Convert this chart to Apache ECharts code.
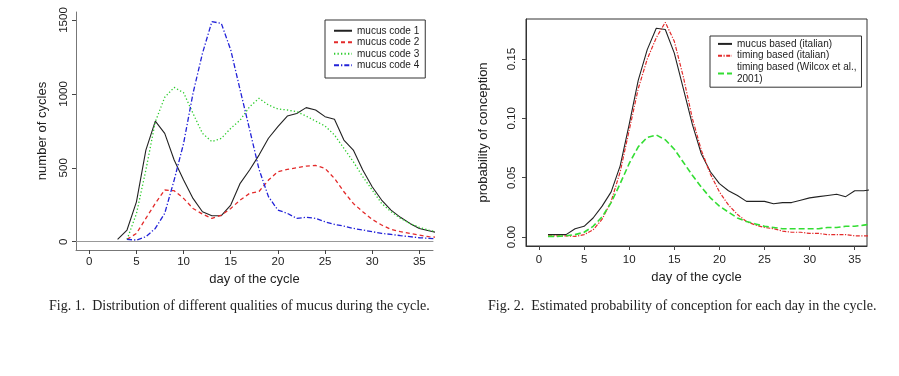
<!DOCTYPE html>
<html>
<head>
<meta charset="utf-8">
<script src="https://cdn.jsdelivr.net/npm/echarts@6/dist/echarts.min.js"></script>
<style>
  html, body { margin: 0; padding: 0; background: #fff; }
  #main { width: 899px; height: 376px; }
</style>
</head>
<body>
<div id="main"></div>
<script>
// fig 1: mucus code counts per day of cycle
var days1 = [3,4,5,6,7,8,9,10,11,12,13,14,15,16,17,18,19,20,21,22,23,24,25,26,27,28,29,30,31,32,33,34,35,36,37];
var mucus1 = [16,79,270,620,816,733,553,417,293,203,176,176,248,395,485,586,700,778,850,868,907,891,846,828,688,620,485,372,282,214,165,124,90,74,60];
var days2to4 = [4,5,6,7,8,9,10,11,12,13,14,15,16,17,18,19,20,21,22,23,24,25,26,27,28,29,30,31,32,33,34,35,36,37];
var mucus2 = [16,56,158,259,350,345,293,225,187,158,180,225,282,327,340,417,474,489,500,512,516,496,428,338,259,203,151,113,83,68,56,45,34,30];
var mucus3 = [15,190,485,812,977,1044,1008,868,733,677,699,767,823,913,970,925,898,891,880,850,816,783,722,632,541,440,350,259,203,158,124,97,79,62];
var mucus4 = [16,11,34,90,192,417,665,1004,1274,1489,1477,1297,1026,760,490,305,214,192,158,165,158,135,117,106,90,79,68,56,50,41,34,27,23,18];

// fig 2: probability of conception per day
var days5 = [1,2,3,4,5,6,7,8,9,10,11,12,13,14,15,16,17,18,19,20,21,22,23,24,25,26,27,28,29,30,31,32,33,34,35,36,37];
var mucusBased = [0.002,0.002,0.002,0.007,0.009,0.016,0.026,0.038,0.060,0.095,0.132,0.158,0.176,0.175,0.155,0.125,0.095,0.070,0.055,0.045,0.039,0.035,0.030,0.030,0.030,0.028,0.029,0.029,0.031,0.033,0.034,0.035,0.036,0.034,0.039,0.039,0.040];
var timingItalian = [0.001,0.001,0.001,0.0005,0.002,0.006,0.015,0.030,0.055,0.090,0.125,0.150,0.168,0.181,0.165,0.135,0.100,0.073,0.053,0.038,0.027,0.019,0.013,0.010,0.008,0.007,0.005,0.004,0.004,0.003,0.003,0.002,0.002,0.002,0.001,0.001,0.001];
var timingWilcox = [0.0005,0.0005,0.001,0.002,0.004,0.009,0.017,0.029,0.045,0.062,0.076,0.084,0.086,0.082,0.074,0.063,0.052,0.042,0.033,0.026,0.021,0.016,0.013,0.011,0.009,0.008,0.007,0.007,0.007,0.007,0.007,0.008,0.008,0.009,0.009,0.010,0.011];

var xTicks = [0,5,10,15,20,25,30,35];
var yTicks1 = [0,500,1000,1500];
var yTicks2 = [0,0.05,0.10,0.15];

function pairs(xs, ys) {
    return xs.map(function (x, i) { return [x, ys[i]]; });
}

var FONT = 'Liberation Sans, Arial, sans-serif';
var SERIF = '14px "Liberation Serif", "Times New Roman", serif';
var myChart = echarts.init(document.getElementById('main'));

function xAxisFor(grid, min, max, lineColor, margin) {
    return {
        type: 'value', gridIndex: grid, min: min, max: max,
        name: 'day of the cycle', nameLocation: 'middle', nameGap: 22,
        nameTextStyle: { fontFamily: FONT, fontSize: 13, color: '#222' },
        axisLine: { show: true, onZero: false, lineStyle: { color: lineColor, width: 1 } },
        axisTick: { show: true, length: 4, customValues: xTicks, lineStyle: { color: '#444' } },
        axisLabel: { customValues: xTicks, margin: margin, fontFamily: FONT, fontSize: 11.5, color: '#222' },
        splitLine: { show: false }
    };
}

var option = {
    animation: false,
    grid: [
        { left: 76, top: 12, width: 357, height: 238 },
        { left: 526, top: 19, width: 341, height: 227, show: true, borderColor: '#333', borderWidth: 1 }
    ],
    xAxis: [
        xAxisFor(0, -1.41, 36.45, '#777', 6),
        xAxisFor(1, -1.44, 36.36, '#333', 8),
        // top border of the first box
        { type: 'value', gridIndex: 0, position: 'top', min: 0, max: 1,
          axisLine: { show: true, lineStyle: { color: '#999' } },
          axisTick: { show: false }, axisLabel: { show: false }, splitLine: { show: false } }
    ],
    yAxis: [
        {
            type: 'value', gridIndex: 0, min: -56, max: 1554,
            name: 'number of cycles', nameLocation: 'middle', nameGap: 27,
            nameTextStyle: { fontFamily: FONT, fontSize: 13, color: '#222' },
            axisLine: { show: true, onZero: false, lineStyle: { color: '#777' } },
            axisTick: { show: true, length: 4, customValues: yTicks1, lineStyle: { color: '#444' } },
            axisLabel: { customValues: yTicks1, rotate: 90, margin: 6, fontFamily: FONT, fontSize: 11.5, color: '#222',
                formatter: function (v) { return String(v); } },
            splitLine: { show: false }
        },
        {
            type: 'value', gridIndex: 1, min: -0.0076, max: 0.1838,
            name: 'probability of conception', nameLocation: 'middle', nameGap: 36,
            nameTextStyle: { fontFamily: FONT, fontSize: 13, color: '#222' },
            axisLine: { show: true, onZero: false, lineStyle: { color: '#333' } },
            axisTick: { show: true, length: 4, customValues: yTicks2, lineStyle: { color: '#444' } },
            axisLabel: { customValues: yTicks2, rotate: 90, margin: 8, fontFamily: FONT, fontSize: 11.5, color: '#222',
                formatter: function (v) { return v.toFixed(2); } },
            splitLine: { show: false }
        }
    ],
    legend: [
        {
            left: 325, top: 20, orient: 'vertical',
            data: ['mucus code 1', 'mucus code 2', 'mucus code 3', 'mucus code 4'],
            borderColor: '#333', borderWidth: 1, padding: [5, 6, 7, 8],
            itemWidth: 18, itemHeight: 8, itemGap: 0,
            itemStyle: { opacity: 0 },
            textStyle: { fontFamily: FONT, fontSize: 10, color: '#222', lineHeight: 11.5 }
        },
        {
            left: 710, top: 36, orient: 'vertical',
            data: ['mucus based (italian)', 'timing based (italian)', 'timing based (Wilcox et al.,\n2001)'],
            borderColor: '#333', borderWidth: 1, padding: [2, 5, 2, 7],
            itemWidth: 14, itemHeight: 8, itemGap: 0,
            itemStyle: { opacity: 0 },
            textStyle: { fontFamily: FONT, fontSize: 10, color: '#222', lineHeight: 11.8 }
        }
    ],
    graphic: [
        { type: 'text', left: 49, top: 299,
          style: { text: 'Fig. 1.  Distribution of different qualities of mucus during the cycle.', font: SERIF, fill: '#222' } },
        { type: 'text', left: 488, top: 299,
          style: { text: 'Fig. 2.  Estimated probability of conception for each day in the cycle.', font: SERIF, fill: '#222' } }
    ],
    series: [
        { name: 'mucus code 1', type: 'line', xAxisIndex: 0, yAxisIndex: 0, symbol: 'none', clip: true,
          data: pairs(days1, mucus1), lineStyle: { color: '#222', width: 1.1, type: 'solid' }, itemStyle: { color: '#222' } },
        { name: 'mucus code 2', type: 'line', xAxisIndex: 0, yAxisIndex: 0, symbol: 'none', clip: true,
          data: pairs(days2to4, mucus2), lineStyle: { color: '#e32a2a', width: 1.3, type: [4, 3] }, itemStyle: { color: '#e32a2a' } },
        { name: 'mucus code 3', type: 'line', xAxisIndex: 0, yAxisIndex: 0, symbol: 'none', clip: true,
          data: pairs(days2to4, mucus3), lineStyle: { color: '#2ccc2c', width: 1.3, type: [1.3, 2.2] }, itemStyle: { color: '#2ccc2c' } },
        { name: 'mucus code 4', type: 'line', xAxisIndex: 0, yAxisIndex: 0, symbol: 'none', clip: true,
          data: pairs(days2to4, mucus4), lineStyle: { color: '#2222d8', width: 1.3, type: [5, 2, 1.3, 2] }, itemStyle: { color: '#2222d8' } },

        { name: 'mucus based (italian)', type: 'line', xAxisIndex: 1, yAxisIndex: 1, symbol: 'none', clip: true,
          data: pairs(days5, mucusBased), lineStyle: { color: '#222', width: 1.1, type: 'solid' }, itemStyle: { color: '#222' } },
        { name: 'timing based (italian)', type: 'line', xAxisIndex: 1, yAxisIndex: 1, symbol: 'none', clip: true,
          data: pairs(days5, timingItalian), lineStyle: { color: '#e32a2a', width: 1.2, type: [4, 1.5, 1.2, 1.5] }, itemStyle: { color: '#e32a2a' } },
        { name: 'timing based (Wilcox et al.,\n2001)', type: 'line', xAxisIndex: 1, yAxisIndex: 1, symbol: 'none', clip: true,
          data: pairs(days5, timingWilcox), lineStyle: { color: '#33dd33', width: 1.6, type: [6, 3] }, itemStyle: { color: '#33dd33' } }
    ]
};

myChart.setOption(option);
window.addEventListener('resize', function () { myChart.resize(); });
</script>
</body>
</html>
